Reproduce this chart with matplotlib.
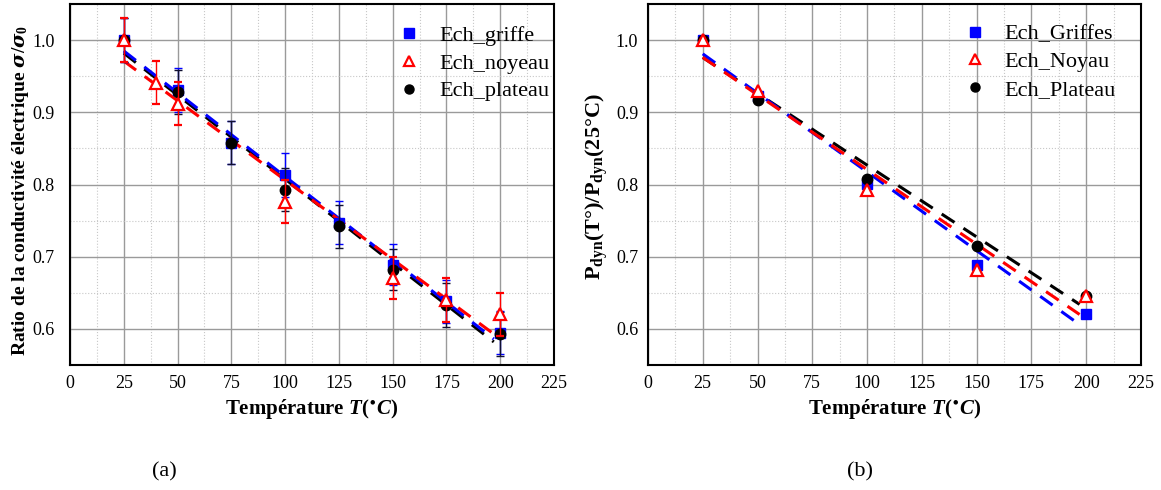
import matplotlib
matplotlib.use("Agg")
import matplotlib.pyplot as plt
from matplotlib.lines import Line2D
from matplotlib.ticker import MultipleLocator

plt.rcParams["font.family"] = ["Liberation Serif", "DejaVu Serif"]
plt.rcParams["mathtext.fontset"] = "custom"
plt.rcParams["mathtext.rm"] = "Liberation Serif:bold"
plt.rcParams["mathtext.it"] = "Liberation Serif:italic:bold"
plt.rcParams["mathtext.bf"] = "Liberation Serif:bold"
plt.rcParams["mathtext.sf"] = "DejaVu Serif:italic:bold"

# (a) conductivity ratio
T_griffe_a = [25, 50, 75, 100, 125, 150, 175, 200]
griffe_a = [1.0, 0.931, 0.858, 0.813, 0.747, 0.689, 0.638, 0.595]
griffe_err = [0.03, 0.031, 0.03, 0.03, 0.03, 0.028, 0.03, 0.03]
T_noyeau_a = [25, 40, 50, 100, 150, 175, 200]
noyeau_a = [1.0, 0.941, 0.912, 0.776, 0.671, 0.640, 0.620]
noyeau_err = [0.03, 0.03, 0.03, 0.03, 0.029, 0.03, 0.03]
T_plateau_a = [25, 50, 75, 100, 125, 150, 175, 200]
plateau_a = [1.0, 0.928, 0.858, 0.793, 0.742, 0.682, 0.633, 0.593]
plateau_err = [0.03, 0.03, 0.03, 0.03, 0.03, 0.028, 0.03, 0.03]
fit_T_a = [25, 197]
fit_griffe_a = [0.985, 0.586]
fit_noyeau_a = [0.971, 0.593]
fit_plateau_a = [0.982, 0.582]

# (b) dynamic losses ratio
T_b = [25, 50, 100, 150, 200]
griffes_b = [1.0, 0.922, 0.801, 0.689, 0.621]
noyau_b = [1.0, 0.929, 0.792, 0.682, 0.646]
plateau_b = [1.0, 0.917, 0.807, 0.715, 0.645]
fit_T_b = [25, 197]
fit_griffes_b = [0.981, 0.606]
fit_noyau_b = [0.976, 0.620]
fit_plateau_b = [0.976, 0.634]

labels_a = ["Ech_griffe", "Ech_noyeau", "Ech_plateau"]
labels_b = ["Ech_Griffes", "Ech_Noyau", "Ech_Plateau"]

fig = plt.figure(figsize=(11.61, 4.9), dpi=100)
ax_a = fig.add_axes([0.0603, 0.2551, 0.4169, 0.7367])
ax_b = fig.add_axes([0.5581, 0.2551, 0.4246, 0.7367])

dash = dict(ls=(0, (5, 3.5)), lw=2.2)
sq = dict(marker="s", ms=6.5, color="blue", ls="none")
tri = dict(marker="^", ms=8, mfc="white", mec="red", mew=1.6, color="red", ls="none")
dot = dict(marker="o", ms=7.5, color="black", ls="none")
ebar = dict(capsize=3, elinewidth=1.0, capthick=1.0)

# panel (a)
ax_a.plot(fit_T_a, fit_plateau_a, color="black", zorder=3, **dash)
ax_a.plot(fit_T_a, fit_griffe_a, color="blue", zorder=3.1, **dash)
ax_a.plot(fit_T_a, fit_noyeau_a, color="red", zorder=3.2, **dash)
ax_a.errorbar(T_griffe_a, griffe_a, yerr=griffe_err, ecolor="blue", zorder=4, **sq, **ebar)
ax_a.errorbar(T_noyeau_a, noyeau_a, yerr=noyeau_err, ecolor="red", zorder=5, **tri, **ebar)
ax_a.errorbar(T_plateau_a, plateau_a, yerr=plateau_err, ecolor="#101030", zorder=4.5,
              **dot, **ebar)

# panel (b)
ax_b.plot(fit_T_b, fit_plateau_b, color="black", zorder=3, **dash)
ax_b.plot(fit_T_b, fit_griffes_b, color="blue", zorder=3.1, **dash)
ax_b.plot(fit_T_b, fit_noyau_b, color="red", zorder=3.2, **dash)
ax_b.plot(T_b, griffes_b, zorder=4, **sq)
ax_b.plot(T_b, plateau_b, zorder=4.5, **dot)
ax_b.plot(T_b, noyau_b, zorder=5, **tri)

for ax in (ax_a, ax_b):
    ax.set_xlim(0, 225)
    ax.set_ylim(0.55, 1.05)
    ax.xaxis.set_major_locator(MultipleLocator(25))
    ax.xaxis.set_minor_locator(MultipleLocator(12.5))
    ax.yaxis.set_major_locator(MultipleLocator(0.1))
    ax.yaxis.set_minor_locator(MultipleLocator(0.05))
    ax.yaxis.set_major_formatter(plt.FormatStrFormatter("%.1f"))
    ax.grid(which="major", color="#9a9a9a", lw=1.0)
    ax.grid(which="minor", color="#c8c8c8", lw=0.8, ls=":")
    ax.set_axisbelow(True)
    ax.tick_params(which="both", direction="in", length=0, labelsize=13)
    ax.tick_params(axis="x", pad=7)
    for s in ax.spines.values():
        s.set_linewidth(1.5)
    ax.set_xlabel(r"Température $T(^{\mathsf{\bullet}}C)$", fontsize=15,
                  fontweight="bold", labelpad=4)

    is_a = ax is ax_a
    handles = [Line2D([], [], **sq), Line2D([], [], **{**tri, "ms": 7}),
               Line2D([], [], **{**dot, "ms": 6.5})]
    ax.legend(handles, labels_a if is_a else labels_b, loc="upper left",
              bbox_to_anchor=(0.641, 0.996) if is_a else (0.605, 1.0),
              frameon=False, fontsize=16, handlelength=0.8,
              handletextpad=0.97 if is_a else 0.9, labelspacing=0.32)

ax_a.tick_params(axis="y", pad=11)
ax_b.tick_params(axis="y", pad=7)

ax_a.set_ylabel(r"Ratio de la conductivité électrique $\mathsf{\sigma}/\mathsf{\sigma}_{0}$",
                fontsize=14, fontweight="bold")
ax_a.yaxis.set_label_coords(-0.08, 0.485)
ax_b.set_ylabel(r"$\mathrm{P_{dyn}(T°)/P_{dyn}(25°C)}$", fontsize=16)
ax_b.yaxis.set_label_coords(-0.076, 0.495)

fig.text(0.142, 0.027, "(a)", fontsize=16, ha="center")
fig.text(0.741, 0.027, "(b)", fontsize=16, ha="center")

fig.savefig("out.png", dpi=100)
